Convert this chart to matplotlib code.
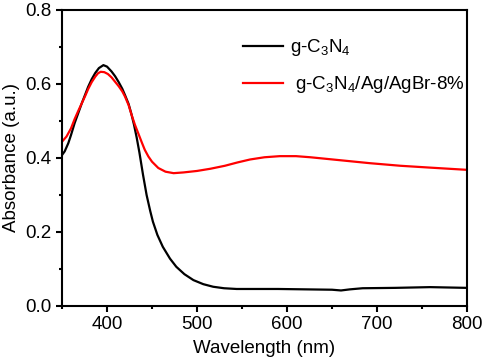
import matplotlib
matplotlib.use("Agg")
import matplotlib.pyplot as plt
from matplotlib.ticker import MultipleLocator, FormatStrFormatter

plt.rcParams['font.family'] = ['Liberation Sans', 'DejaVu Sans']
plt.rcParams['mathtext.fontset'] = 'custom'
plt.rcParams['mathtext.rm'] = 'Liberation Sans'
plt.rcParams['mathtext.it'] = 'Liberation Sans:italic'
plt.rcParams['mathtext.bf'] = 'Liberation Sans:bold'

# Data
wl_black = [350, 353, 357, 360, 364, 368, 372, 376, 379, 383, 387, 391, 396, 400, 405, 409,
            413, 417, 420, 424, 427, 430, 433, 436, 440, 444, 448, 451, 456, 462, 470, 477,
            486, 496, 507, 518, 530, 544, 560, 590, 620, 650, 660, 670, 684, 720, 759, 800]
abs_black = [0.408, 0.418, 0.440, 0.462, 0.494, 0.521, 0.548, 0.573, 0.592, 0.613, 0.630,
             0.643, 0.651, 0.647, 0.634, 0.621, 0.605, 0.587, 0.570, 0.546, 0.520, 0.490,
             0.455, 0.415, 0.355, 0.300, 0.257, 0.228, 0.192, 0.160, 0.128, 0.106, 0.086,
             0.070, 0.059, 0.052, 0.048, 0.046, 0.046, 0.046, 0.045, 0.044, 0.042, 0.045,
             0.048, 0.049, 0.051, 0.049]

wl_red = [350, 355, 360, 364, 368, 372, 376, 379, 383, 387, 390, 393, 397, 401, 405, 409,
          413, 417, 420, 424, 427, 431, 435, 439, 442, 446, 450, 457, 465, 474, 485, 500,
          515, 531, 545, 559, 575, 592, 610, 626, 659, 692, 726, 759, 800]
abs_red = [0.444, 0.458, 0.480, 0.505, 0.527, 0.548, 0.569, 0.586, 0.605, 0.620, 0.629,
           0.633, 0.632, 0.627, 0.618, 0.606, 0.594, 0.580, 0.566, 0.543, 0.519, 0.490,
           0.465, 0.440, 0.422, 0.404, 0.390, 0.373, 0.363, 0.359, 0.361, 0.365, 0.371,
           0.379, 0.388, 0.396, 0.402, 0.405, 0.405, 0.402, 0.394, 0.386, 0.379, 0.374,
           0.368]

label_black = r'g-C$_3$N$_4$'
label_red = r' g-C$_3$N$_4$/Ag/AgBr-8%'
xlabel = 'Wavelength (nm)'
ylabel = 'Absorbance (a.u.)'

fig = plt.figure(figsize=(4.84, 3.59), dpi=100)
ax = fig.add_axes([62/484, 53/359, 405/484, 296/359])

ax.plot(wl_black, abs_black, color='black', lw=1.6, label=label_black)
ax.plot(wl_red, abs_red, color='#ff0000', lw=1.6, label=label_red)

ax.set_xlim(350, 800)
ax.set_ylim(0.0, 0.8)
ax.xaxis.set_major_locator(MultipleLocator(100))
ax.xaxis.set_minor_locator(MultipleLocator(50))
ax.yaxis.set_major_locator(MultipleLocator(0.2))
ax.yaxis.set_minor_locator(MultipleLocator(0.1))
ax.yaxis.set_major_formatter(FormatStrFormatter('%.1f'))

for s in ax.spines.values():
    s.set_linewidth(1.5)
ax.tick_params(which='major', direction='out', length=4.5, width=1.5, labelsize=13.5,
               pad=3, top=False, right=False)
ax.tick_params(which='minor', direction='out', length=2.5, width=1.5, top=False, right=False)

ax.set_xlabel(xlabel, fontsize=13.5, labelpad=4.5)
ax.set_ylabel(ylabel, fontsize=13.5, labelpad=4)

ax.legend(loc='upper left', bbox_to_anchor=(0.447, 0.908), frameon=False,
          fontsize=13.5, handlelength=2.15, handletextpad=0.35, labelspacing=0.85,
          borderpad=0, borderaxespad=0)

fig.savefig('out.png', dpi=100)
